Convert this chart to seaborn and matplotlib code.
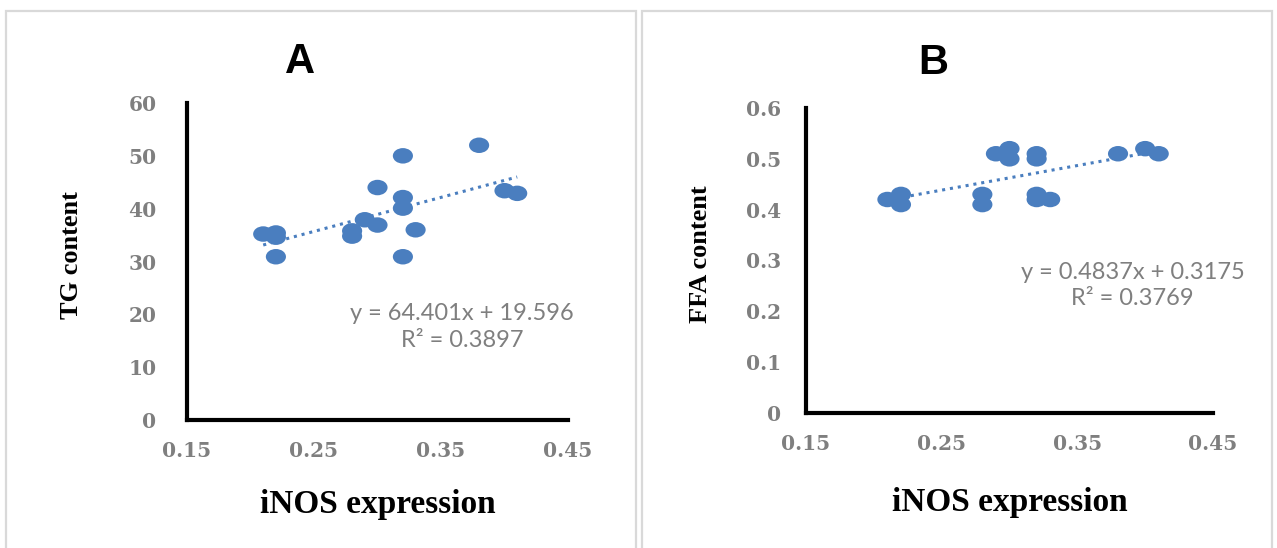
# Scatter plots of TG / FFA content against iNOS expression with linear trend lines

import numpy as np
import pandas as pd
import matplotlib
matplotlib.use("Agg")
import matplotlib.pyplot as plt
from matplotlib.patches import Rectangle
from matplotlib.path import Path
from matplotlib.transforms import Affine2D
import seaborn as sns

# panel A: TG content vs iNOS expression
tg_x = [0.21, 0.22, 0.22, 0.22, 0.28, 0.28, 0.29, 0.30, 0.30, 0.32, 0.32, 0.32, 0.32, 0.33, 0.38, 0.40, 0.41]
tg_y = [35.2, 35.4, 34.6, 30.9, 35.8, 34.8, 37.9, 36.9, 44.0, 50.0, 42.1, 40.1, 30.9, 36.0, 52.0, 43.4, 42.9]
tg_slope, tg_intercept, tg_r2 = "64.401", "19.596", "0.3897"

# panel B: FFA content vs iNOS expression
ffa_x = [0.21, 0.22, 0.22, 0.28, 0.28, 0.32, 0.32, 0.33, 0.29, 0.30, 0.30, 0.32, 0.32, 0.38, 0.40, 0.41]
ffa_y = [0.42, 0.43, 0.41, 0.43, 0.41, 0.43, 0.42, 0.42, 0.51, 0.52, 0.50, 0.51, 0.50, 0.51, 0.52, 0.51]
ffa_slope, ffa_intercept, ffa_r2 = "0.4837", "0.3175", "0.3769"

x_ticks = [0.15, 0.25, 0.35, 0.45]
x_tick_labels = ["0.15", "0.25", "0.35", "0.45"]
tg_ticks = [0, 10, 20, 30, 40, 50, 60]
tg_tick_labels = ["0", "10", "20", "30", "40", "50", "60"]
ffa_ticks = [0, 0.1, 0.2, 0.3, 0.4, 0.5, 0.6]
ffa_tick_labels = ["0", "0.1", "0.2", "0.3", "0.4", "0.5", "0.6"]

sns.set_style("white")

W, H = 1277, 548
fig = plt.figure(figsize=(W / 100, H / 100), dpi=100)

blue = "#4a7ebf"
grey_text = "#7f7f7f"
# slightly wide ellipse marker, like the Excel original
ellipse = Path.unit_circle().transformed(Affine2D().scale(1.3, 1.0))


def px_box(x0, y0, x1, y1):
    # pixel box (top-left origin) -> figure fraction rect
    return [x0 / W, 1 - y1 / H, (x1 - x0) / W, (y1 - y0) / H]


# panel frames
for x0, x1 in [(6, 636), (642, 1272)]:
    fig.patches.append(Rectangle((x0 / W, -0.01), (x1 - x0) / W, 1 - 11 / H + 0.01,
                                 transform=fig.transFigure, fill=False,
                                 edgecolor="#d9d9d9", linewidth=1.6))

panels = [
    dict(box=(187, 103, 568, 420), x=tg_x, y=tg_y, slope=tg_slope, icpt=tg_intercept, r2=tg_r2,
         yticks=tg_ticks, ylabels=tg_tick_labels, ylim=(0, 60), ylabel="TG content",
         letter="A", letter_xy=(300, 62), eq_xy=(0.3665, 17.6),
         xl=-0.268, yl=-0.302, ypad=22),
    dict(box=(806, 108, 1213, 413), x=ffa_x, y=ffa_y, slope=ffa_slope, icpt=ffa_intercept, r2=ffa_r2,
         yticks=ffa_ticks, ylabels=ffa_tick_labels, ylim=(0, 0.6), ylabel="FFA content",
         letter="B", letter_xy=(933, 63), eq_xy=(0.3907, 0.25),
         xl=-0.295, yl=-0.260, ypad=18),
]

for p in panels:
    ax = fig.add_axes(px_box(*p["box"]))
    df = pd.DataFrame({"iNOS": p["x"], "value": p["y"]})
    sns.scatterplot(data=df, x="iNOS", y="value", ax=ax, color=blue, marker=ellipse,
                    s=210, edgecolor="none", zorder=3)

    # trend line from the fitted equation
    slope, icpt = float(p["slope"]), float(p["icpt"])
    tx = np.array([min(p["x"]), max(p["x"])])
    sns.lineplot(x=tx, y=slope * tx + icpt, ax=ax, color=blue, linestyle=(0, (1, 1.6)),
                 linewidth=2.2, zorder=2)

    ax.set_xlim(0.15, 0.45)
    ax.set_ylim(*p["ylim"])
    ax.set_xticks(x_ticks)
    ax.set_xticklabels(x_tick_labels)
    ax.set_yticks(p["yticks"])
    ax.set_yticklabels(p["ylabels"])
    for lab in ax.get_xticklabels() + ax.get_yticklabels():
        lab.set_family("DejaVu Serif")
        lab.set_fontsize(14.5)
        lab.set_color(grey_text)
        lab.set_fontweight("bold")
    ax.tick_params(axis="x", length=0, pad=15)
    ax.tick_params(axis="y", length=0, pad=p["ypad"])

    for side in ["top", "right"]:
        ax.spines[side].set_visible(False)
    for side in ["left", "bottom"]:
        ax.spines[side].set_linewidth(3)
        ax.spines[side].set_color("black")
        ax.spines[side].set_capstyle("projecting")
    ax.patch.set_alpha(0)

    ax.set_xlabel("iNOS expression", family="Liberation Serif", fontweight="bold",
                  fontsize=24, color="black", va="center")
    ax.xaxis.set_label_coords(0.5, p["xl"])
    ax.set_ylabel(p["ylabel"], family="Liberation Serif", fontweight="bold",
                  fontsize=19, color="black", va="center")
    ax.yaxis.set_label_coords(p["yl"], 0.52)

    ax.text(p["eq_xy"][0], p["eq_xy"][1],
            f"y = {p['slope']}x + {p['icpt']}\nR\u00b2 = {p['r2']}",
            ha="center", va="center", multialignment="center", linespacing=1.3,
            family="Lato", fontsize=17, color=grey_text)

    fig.text(p["letter_xy"][0] / W, 1 - p["letter_xy"][1] / H, p["letter"],
             ha="center", va="center", family="Liberation Sans", fontweight="bold",
             fontsize=30, color="black")

fig.savefig("out.png", dpi=100, facecolor="white")
